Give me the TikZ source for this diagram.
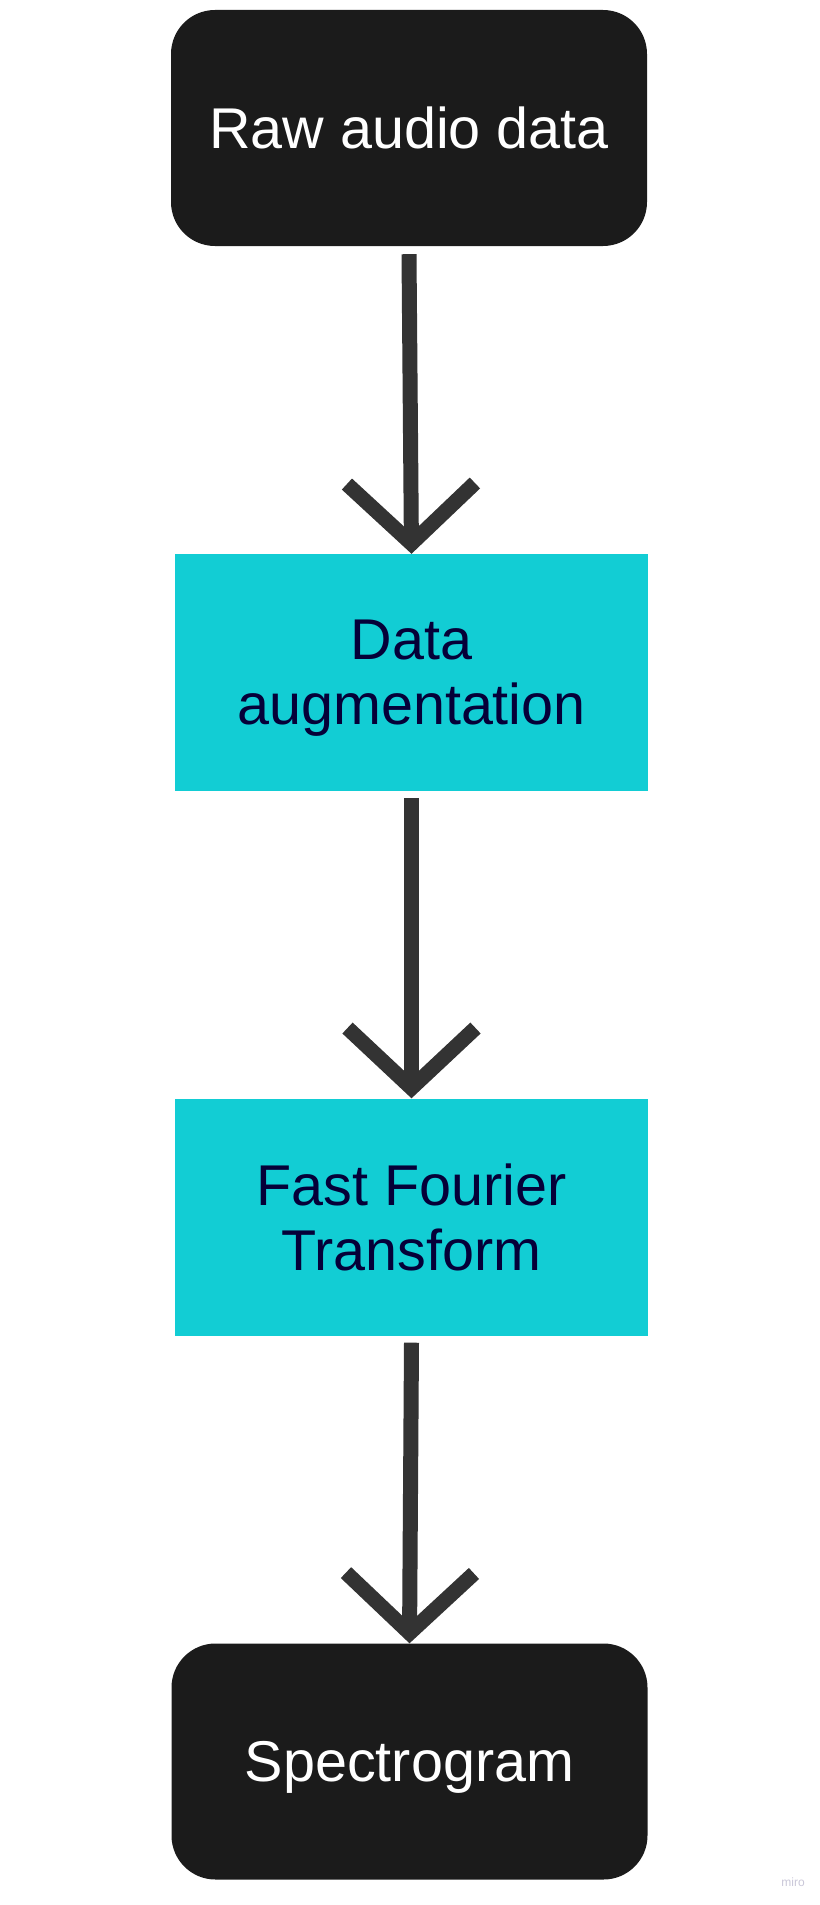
\documentclass[tikz,border=0pt]{standalone}
\usepackage{fontspec}
\setmainfont{Liberation Sans}
\usepackage{tikz}
\usetikzlibrary{arrows.meta}
\usepackage{xcolor}

\definecolor{boxdark}{HTML}{1B1B1B}
\definecolor{boxcyan}{HTML}{12CDD4}
\definecolor{arrowgray}{HTML}{333333}
\definecolor{textnavy}{HTML}{050038}
\definecolor{markgray}{HTML}{C9C7D8}

\tikzset{
    darkbox/.style={fill=boxdark, rounded corners=44pt, minimum width=476pt,
        minimum height=236pt, inner sep=0pt, text=white, align=center,
        text depth=0pt, font=\fontsize{57.5}{65}\selectfont},
    cyanbox/.style={fill=boxcyan, minimum width=473pt, minimum height=237pt,
        inner sep=0pt, text=textnavy, align=center,
        text depth=0pt, font=\fontsize{57.5}{65}\selectfont},
    flow/.style={draw=arrowgray, line width=15pt,
        -{Straight Barb[length=60pt, width=128pt, line width=15pt]}},
}

\begin{document}
\begin{tikzpicture}[x=1pt, y=1pt]

        % 1. Fix the page to the size of the picture
        \useasboundingbox (0,0) rectangle (819,-1905);

        % 2. Place the four steps
        \node[darkbox] (raw) at (409,-128) {Raw audio data};
        \node[cyanbox] (aug) at (411.5,-672.5) {Data\\augmentation};
        \node[cyanbox] (fft) at (411.5,-1217) {Fast Fourier\\Transform};
        \node[darkbox] (spec) at (409.5,-1761.5) {Spectrogram};

        % 3. Connect them
        \draw[flow] ([yshift=-8pt]raw.south) -- (aug.north);
        \draw[flow] ([yshift=-7pt]aug.south) -- (fft.north);
        \draw[flow] ([yshift=-7pt]fft.south) -- (spec.north);

        % 4. Watermark
        \node[text=markgray, font=\fontsize{12}{14}\selectfont] (mark) at (793,-1882) {miro};

    \end{tikzpicture}
\end{document}
